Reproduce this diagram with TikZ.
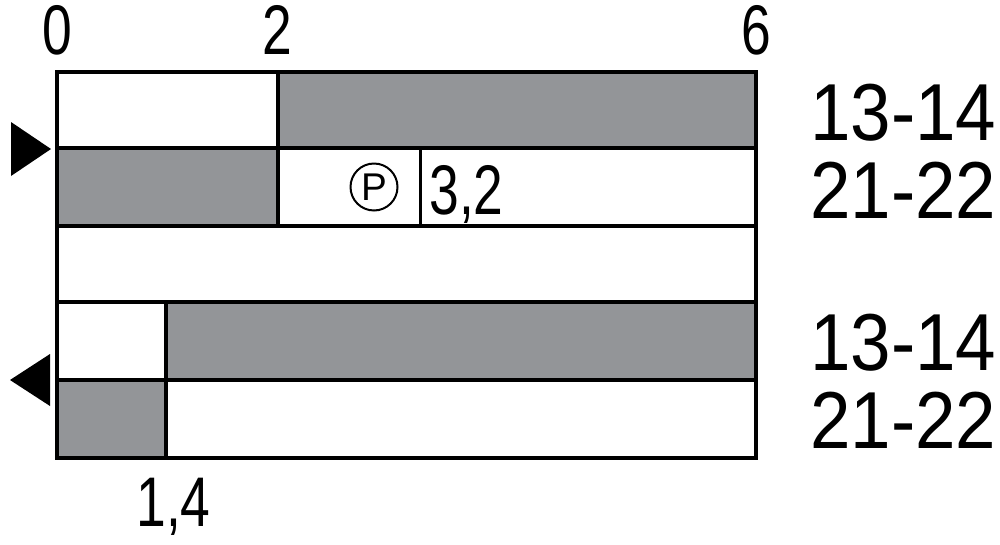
\documentclass[tikz,border=0pt]{standalone}
\usepackage{fontspec}
\usepackage{tikz}
\setmainfont{Liberation Sans}
\newfontfamily\ticksfont[FakeStretch=0.76]{Liberation Sans}
\newfontfamily\contactfont[FakeStretch=0.9]{Liberation Sans}
\definecolor{contactgrey}{HTML}{939598}
\tikzstyle{closed} = [fill=contactgrey]
\tikzstyle{grid} = [line width=0.08cm, line join=miter]
\tikzstyle{ticklabel} = [inner sep=0, font=\ticksfont\fontsize{40}{40}\selectfont]
\tikzstyle{contactlabel} = [inner sep=0, anchor=base west, font=\contactfont\fontsize{46}{46}\selectfont]

\begin{document}
\begin{tikzpicture}[x=0.02cm, y=-0.02cm]
\useasboundingbox (0,0) rectangle (1000,544);
% closed contact intervals
\fill[closed] (278,72) rectangle (756,148);
\fill[closed] (57,148) rectangle (278,226);
\fill[closed] (166,302) rectangle (756,380);
\fill[closed] (57,380) rectangle (166,458);
% rows and time marks
\draw[grid] (57,72) rectangle (756,458);
\foreach \y in {148,226,302,380}
    \draw[grid] (57,\y) -- (756,\y);
\draw[grid] (278,72) -- (278,226);
\draw[line width=0.06cm] (420,148) -- (420,226);
\draw[grid] (166,302) -- (166,458);
% direction marks
\fill (11,122) -- (51,149) -- (11,176) -- cycle;
\fill (50,354) -- (10,380) -- (50,406) -- cycle;
% time scale
\node[ticklabel, anchor=base] (t0) at (57,55) {0};
\node[ticklabel, anchor=base] (t2) at (277,55) {2};
\node[ticklabel, anchor=base] (t6) at (756,55) {6};
\node[ticklabel, anchor=base west] (tp) at (429,214) {3,2};
\node[ticklabel, anchor=base west] (tr) at (136,526) {1,4};
% pulse mark
\node[circle, draw, line width=0.04cm, minimum size=0.94cm, inner sep=0,
      font=\fontsize{22}{22}\selectfont] (pulse) at (374,187) {P};
% contact numbers
\node[contactlabel] (c1) at (810,140) {13-14};
\node[contactlabel] (c2) at (810,218) {21-22};
\node[contactlabel] (c3) at (810,370) {13-14};
\node[contactlabel] (c4) at (810,448) {21-22};
\end{tikzpicture}
\end{document}
